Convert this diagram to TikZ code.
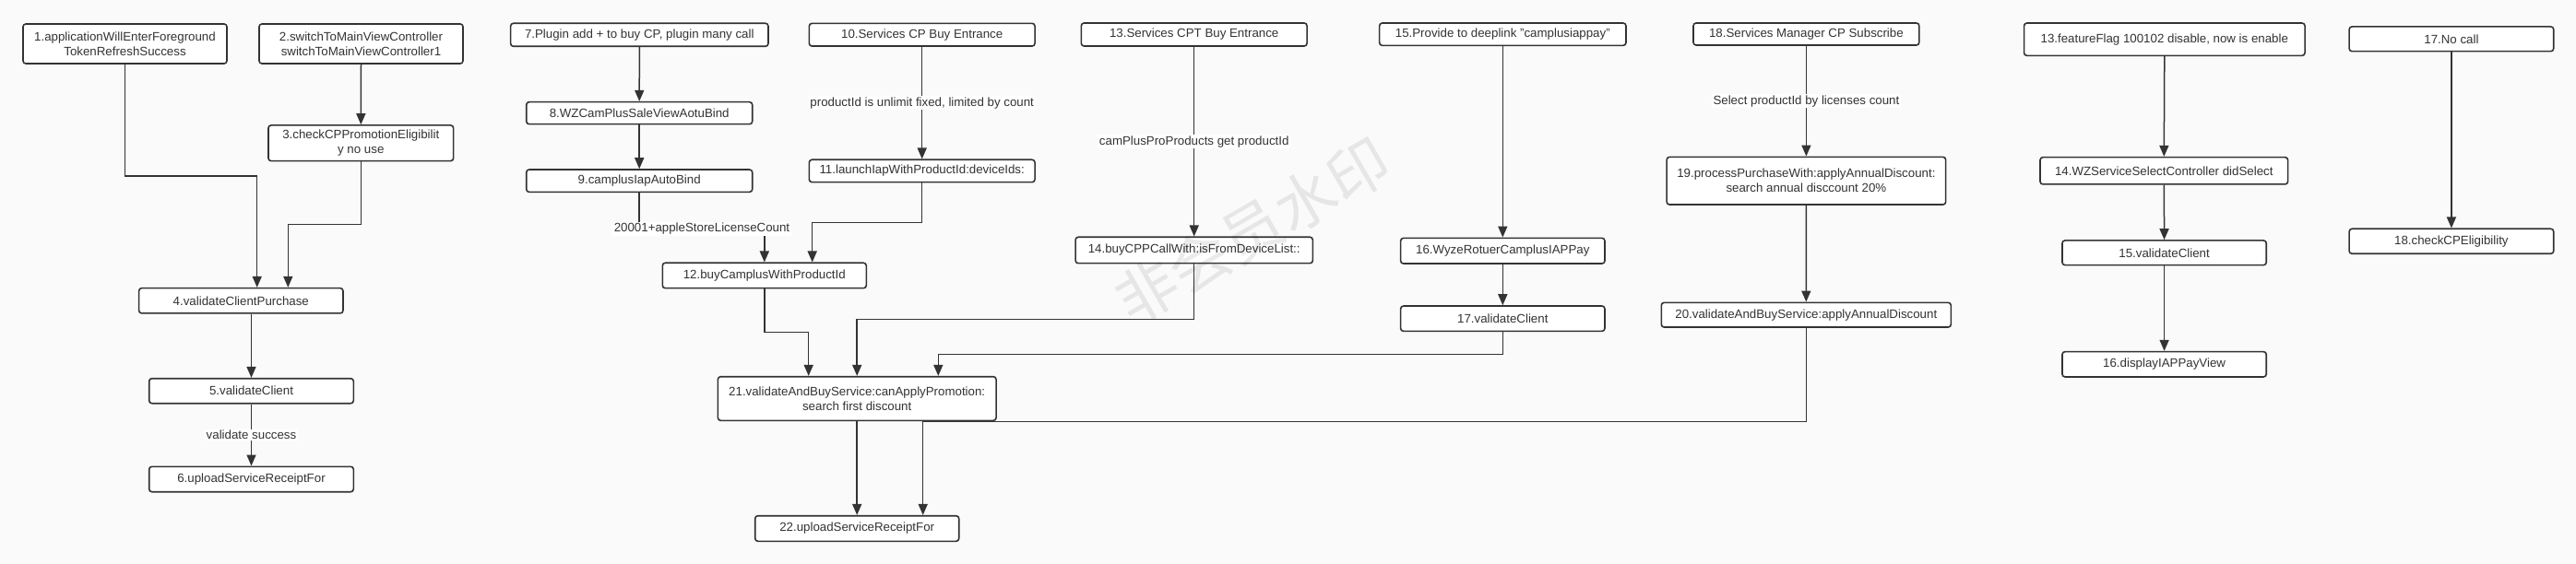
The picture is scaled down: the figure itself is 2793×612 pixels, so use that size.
\documentclass[tikz,border=0pt]{standalone}
\usepackage{fontspec}
\setmainfont{Liberation Sans}
\newfontfamily\cjk{Noto Sans CJK SC}
\usetikzlibrary{arrows.meta}
\definecolor{ink}{HTML}{333333}
\definecolor{bg}{HTML}{FAFAFA}
\begin{document}
\begin{tikzpicture}[x=1pt,y=-1pt,
  box/.style={draw=ink, fill=white, line width=1.6pt, rounded corners=3pt, inner sep=0pt, align=center, font=\fontsize{13.3}{16}\selectfont, text=ink},
  arr/.style={draw=ink, line width=1.5pt, -{Triangle[length=12pt,width=10pt]}},
  ln/.style={draw=ink, line width=1.5pt},
  lbl/.style={fill=white, inner sep=1.5pt, font=\fontsize{13.3}{16}\selectfont, text=ink}]
\fill[bg] (0,0) rectangle (2793,612);
\useasboundingbox (0,0) rectangle (2793,612);

% group 1
\node[box, minimum width=221pt, minimum height=43pt] (b1) at (135.5,47.5) {1.applicationWillEnterForeground\\TokenRefreshSuccess};
\node[box, minimum width=221pt, minimum height=43pt] (b2) at (391.5,47.5) {2.switchToMainViewController\\switchToMainViewController1};
\node[box, minimum width=200.7pt, minimum height=38.7pt] (b3) at (391.3,155.3) {3.checkCPPromotionEligibilit\\y no use};
\node[box, minimum width=221.3pt, minimum height=27.3pt] (b4) at (261.3,326.3) {4.validateClientPurchase};
\node[box, minimum width=221.6pt, minimum height=27pt] (b5) at (272.5,424.2) {5.validateClient};
\node[box, minimum width=221.6pt, minimum height=27.4pt] (b6) at (272.5,520) {6.uploadServiceReceiptFor};

% group 2
\node[box, minimum width=279.3pt, minimum height=25pt] (b7) at (693.3,37.8) {7.Plugin add + to buy CP, plugin many call};
\node[box, minimum width=245pt, minimum height=24pt] (b8) at (693.2,122.7) {8.WZCamPlusSaleViewAotuBind};
\node[box, minimum width=245pt, minimum height=24.3pt] (b9) at (693.2,196.2) {9.camplusIapAutoBind};
\node[box, minimum width=244.7pt, minimum height=24.7pt] (b10) at (999.7,37.7) {10.Services CP Buy Entrance};
\node[box, minimum width=244.7pt, minimum height=24.4pt] (b11) at (999.7,185.5) {11.launchIapWithProductId:deviceIds:};
\node[box, minimum width=221pt, minimum height=27.4pt] (b12) at (828.8,299) {12.buyCamplusWithProductId};
\node[box, minimum width=244.7pt, minimum height=25pt] (b13) at (1294.7,37.5) {13.Services CPT Buy Entrance};
\node[box, minimum width=257.3pt, minimum height=28.4pt] (b14) at (1294.7,271.5) {14.buyCPPCallWith:isFromDeviceList::};
\node[box, minimum width=267.3pt, minimum height=24.3pt] (b15) at (1629.3,37.2) {15.Provide to deeplink "camplusiappay"};
\node[box, minimum width=221.3pt, minimum height=27.7pt] (b16) at (1629.3,272.2) {16.WyzeRotuerCamplusIAPPay};
\node[box, minimum width=221.3pt, minimum height=27.3pt] (b17) at (1629.3,345.7) {17.validateClient};
\node[box, minimum width=244.8pt, minimum height=24pt] (b18) at (1958.4,37) {18.Services Manager CP Subscribe};
\node[box, minimum width=302.5pt, minimum height=51.7pt] (b19) at (1958.4,196.2) {19.processPurchaseWith:applyAnnualDiscount:\\search annual disccount 20\%};
\node[box, minimum width=314pt, minimum height=26.7pt] (b20) at (1958.3,341.7) {20.validateAndBuyService:applyAnnualDiscount};
\node[box, minimum width=301.7pt, minimum height=47.6pt] (b21) at (929.2,432.5) {21.validateAndBuyService:canApplyPromotion:\\search first discount};
\node[box, minimum width=221pt, minimum height=27.6pt] (b22) at (929.2,573.5) {22.uploadServiceReceiptFor};

% group 3
\node[box, minimum width=304.5pt, minimum height=35.3pt] (c13) at (2346.8,42.7) {13.featureFlag 100102 disable, now is enable};
\node[box, minimum width=268.6pt, minimum height=29.3pt] (c14) at (2346.3,185.3) {14.WZServiceSelectController didSelect};
\node[box, minimum width=221.3pt, minimum height=26.7pt] (c15) at (2346.6,274.3) {15.validateClient};
\node[box, minimum width=221.3pt, minimum height=27.3pt] (c16) at (2346.6,395.3) {16.displayIAPPayView};
\node[box, minimum width=221.6pt, minimum height=26.7pt] (c17) at (2657.9,42.3) {17.No call};
\node[box, minimum width=221.6pt, minimum height=27pt] (c18) at (2657.9,261.8) {18.checkCPEligibility};

% bend points
\coordinate (k1) at (278.7,191);
\coordinate (k3) at (312.3,243.7);
\coordinate (k9) at (693.2,248.3);
\coordinate (k11) at (880.7,241.3);
\coordinate (k12) at (876.7,360.7);
\coordinate (k14) at (929.2,346.7);
\coordinate (k17) at (1017.3,384.3);
\coordinate (k20) at (1000.7,457.3);

% connectors group 1
\draw[arr] (b1.south) |- (k1) -- (k1 |- b4.north);
\draw[arr] (b2.south) -- (b3.north);
\draw[arr] (b3.south) |- (k3) -- (k3 |- b4.north);
\draw[arr] (b5.north |- b4.south) -- (b5.north);
\draw[arr] (b5.south) -- (b6.north) node[lbl, midway] {validate success};

% connectors group 2
\draw[arr] (b7.south) -- (b8.north);
\draw[arr] (b8.south) -- (b9.north);
\draw[arr] (b9.south) -- (k9) -- (k9 -| b12.north) node[lbl, midway] {20001+appleStoreLicenseCount} -- (b12.north);
\draw[arr] (b10.south) -- (b11.north) node[lbl, midway] {productId is unlimit fixed, limited by count};
\draw[arr] (b11.south) |- (k11) -- (k11 |- b12.north);
\draw[arr] (b12.south) |- (k12) -- (k12 |- b21.north);
\draw[arr] (b13.south) -- (b14.north) node[lbl, midway] {camPlusProProducts get productId};
\draw[arr] (b14.south) |- (k14) -- (b21.north);
\draw[arr] (b15.south) -- (b16.north);
\draw[arr] (b16.south) -- (b17.north);
\draw[arr] (b17.south) |- (k17) -- (k17 |- b21.north);
\draw[arr] (b18.south) -- (b19.north) node[lbl, midway] {Select productId by licenses count};
\draw[arr] (b19.south) -- (b20.north);
\draw[arr] (b20.south) |- (k20) -- (k20 |- b22.north);
\draw[arr] (b21.south) -- (b22.north);

% connectors group 3
\draw[arr] (c13.south) -- (c14.north);
\draw[arr] (c14.south) -- (c15.north);
\draw[arr] (c15.south) -- (c16.north);
\draw[arr] (c17.south) -- (c18.north);

% watermark
\node[rotate=30, text=black, opacity=0.08, font=\cjk\fontsize{66}{66}\selectfont] (wm) at (1358,250) {非会员水印};
\end{tikzpicture}
\end{document}
